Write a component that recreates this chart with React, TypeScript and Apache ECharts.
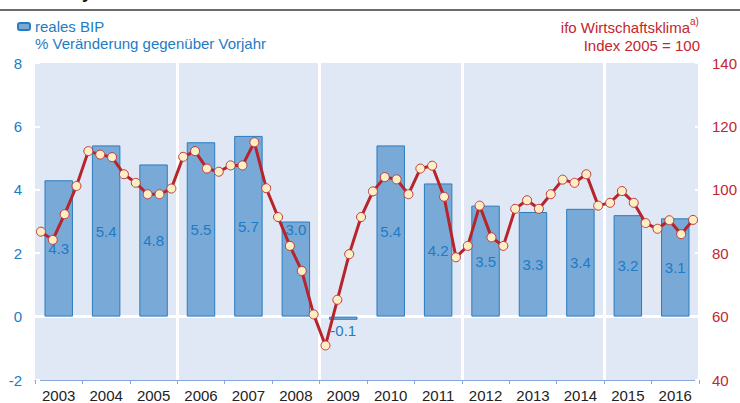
import React, { useEffect, useRef } from "react";
import * as echarts from "echarts";

const years = ["2003", "2004", "2005", "2006", "2007", "2008", "2009", "2010", "2011", "2012", "2013", "2014", "2015", "2016"];
const gdp = [4.3, 5.4, 4.8, 5.5, 5.7, 3.0, -0.1, 5.4, 4.2, 3.5, 3.3, 3.4, 3.2, 3.1];
const ifo = [
  86.8, 84.2, 92.3, 101.2,
  112.2, 111.1, 110.3, 104.9,
  102.2, 98.6, 98.6, 100.4,
  110.4, 112.2, 106.7, 105.7,
  107.7, 107.7, 115.0, 100.5,
  91.4, 82.3, 74.4, 60.7,
  50.9, 65.3, 79.7, 91.4,
  99.5, 104.0, 103.3, 98.6,
  106.7, 107.6, 97.8, 78.7,
  82.3, 95.0, 85.0, 82.3,
  94.0, 96.7, 94.0, 98.6,
  103.2, 102.2, 104.9, 95.0,
  95.9, 99.6, 95.9, 89.5,
  87.7, 90.4, 86.0, 90.5,
];
const quarters = years.flatMap((y) => ["Q1", "Q2", "Q3", "Q4"].map((q) => y + q));

const FONT = "'Liberation Sans', Arial, sans-serif";
const BLUE_TEXT = "#1e7bc4";
const RED_TEXT = "#c3262e";
const FS = 15;

export default function App() {
  const ref = useRef<HTMLDivElement>(null);
  useEffect(() => {
    if (!ref.current) return;
    const chart = echarts.init(ref.current, null, { renderer: "svg" });
    const barData = gdp.map((v, i) => {
      let label: any = { position: "inside" };
      if (v === 3.0 && i === 5) label = { position: "insideTop", distance: 0 };
      if (v < 0) label = { position: "bottom", distance: 3 };
      return { value: v, label };
    });
    chart.setOption({
      animation: false,
      textStyle: { fontFamily: FONT },
      grid: {
        left: 35,
        right: 37,
        top: 63,
        bottom: 21,
        show: true,
        backgroundColor: "#e1e8f5",
        borderWidth: 0,
      },
      legend: {
        data: ["reales BIP"],
        left: 12,
        top: 14,
        itemWidth: 12,
        itemHeight: 7,
        itemGap: 5,
        textStyle: { color: BLUE_TEXT, fontSize: FS, fontFamily: FONT },
      },
      graphic: [
        { type: "line", shape: { x1: 0, y1: 10, x2: 740, y2: 10 }, style: { stroke: "#6b6b6b", lineWidth: 2 } },
        { type: "text", x: 82, y: -17, style: { text: "y", font: `bold 18px ${FONT}`, fill: "#111", verticalAlign: "top" } },
        { type: "text", x: 35, y: 43, style: { text: "% Veränderung gegenüber Vorjahr", font: `${FS}px ${FONT}`, fill: BLUE_TEXT, verticalAlign: "middle" } },
        { type: "text", x: 690, y: 27, style: { text: "ifo Wirtschaftsklima", font: `${FS}px ${FONT}`, fill: RED_TEXT, align: "right", verticalAlign: "middle" } },
        { type: "text", x: 690, y: 21, style: { text: "a)", font: `10px ${FONT}`, fill: RED_TEXT, align: "left", verticalAlign: "middle" } },
        { type: "text", x: 700, y: 45, style: { text: "Index 2005 = 100", font: `${FS}px ${FONT}`, fill: RED_TEXT, align: "right", verticalAlign: "middle" } },
      ],
      xAxis: [
        {
          type: "category",
          data: years,
          boundaryGap: true,
          axisLine: { show: true, onZero: false, lineStyle: { color: "#86a8dc", width: 1 } },
          axisTick: { show: true, length: 4, lineStyle: { color: "#86a8dc" } },
          axisLabel: { color: "#222", fontSize: FS, margin: 8, fontFamily: FONT },
          splitLine: {
            show: true,
            interval: (i: number) => i === 3 || i === 6 || i === 9 || i === 12,
            lineStyle: { color: "#ffffff", width: 3 },
          },
        },
        {
          type: "category",
          data: quarters,
          boundaryGap: true,
          show: false,
        },
      ],
      yAxis: [
        {
          type: "value",
          min: -2,
          max: 8,
          interval: 2,
          axisLine: { show: false },
          axisTick: { show: true, inside: true, length: 5, lineStyle: { color: "#ffffff", width: 2 } },
          axisLabel: { color: BLUE_TEXT, fontSize: FS, margin: 13, fontFamily: FONT },
          splitLine: { show: false },
        },
        {
          type: "value",
          min: 40,
          max: 140,
          interval: 20,
          position: "right",
          axisLine: { show: false },
          axisTick: { show: true, inside: true, length: 4, lineStyle: { color: "#ffffff", width: 2 } },
          axisLabel: { color: RED_TEXT, fontSize: FS, margin: 13, fontFamily: FONT },
          splitLine: { show: false },
        },
      ],
      series: [
        {
          name: "reales BIP",
          type: "bar",
          xAxisIndex: 0,
          yAxisIndex: 0,
          barWidth: "60%",
          data: barData,
          itemStyle: { color: "#79a9d6", borderColor: "#2a7cc0", borderWidth: 1 },
          label: { show: true, color: BLUE_TEXT, fontSize: FS, fontFamily: FONT, formatter: (p: any) => Number(p.value).toFixed(1) },
          markLine: {
            silent: true,
            symbol: "none",
            label: { show: false },
            lineStyle: { color: "#ffffff", width: 3, type: "solid" },
            data: [{ yAxis: 0 }],
            z: 1,
          },
          z: 2,
        },
        {
          name: "ifo",
          type: "line",
          xAxisIndex: 1,
          yAxisIndex: 1,
          data: ifo,
          symbol: "circle",
          symbolSize: 9,
          showAllSymbol: true,
          lineStyle: { color: "#b8242b", width: 3 },
          itemStyle: { color: "#fdefc3", borderColor: "#c0393f", borderWidth: 1 },
          z: 3,
        },
      ],
    });
    return () => chart.dispose();
  }, []);
  return <div ref={ref} style={{ width: 740, height: 403, position: "absolute", left: 0, top: 0 }} />;
}
